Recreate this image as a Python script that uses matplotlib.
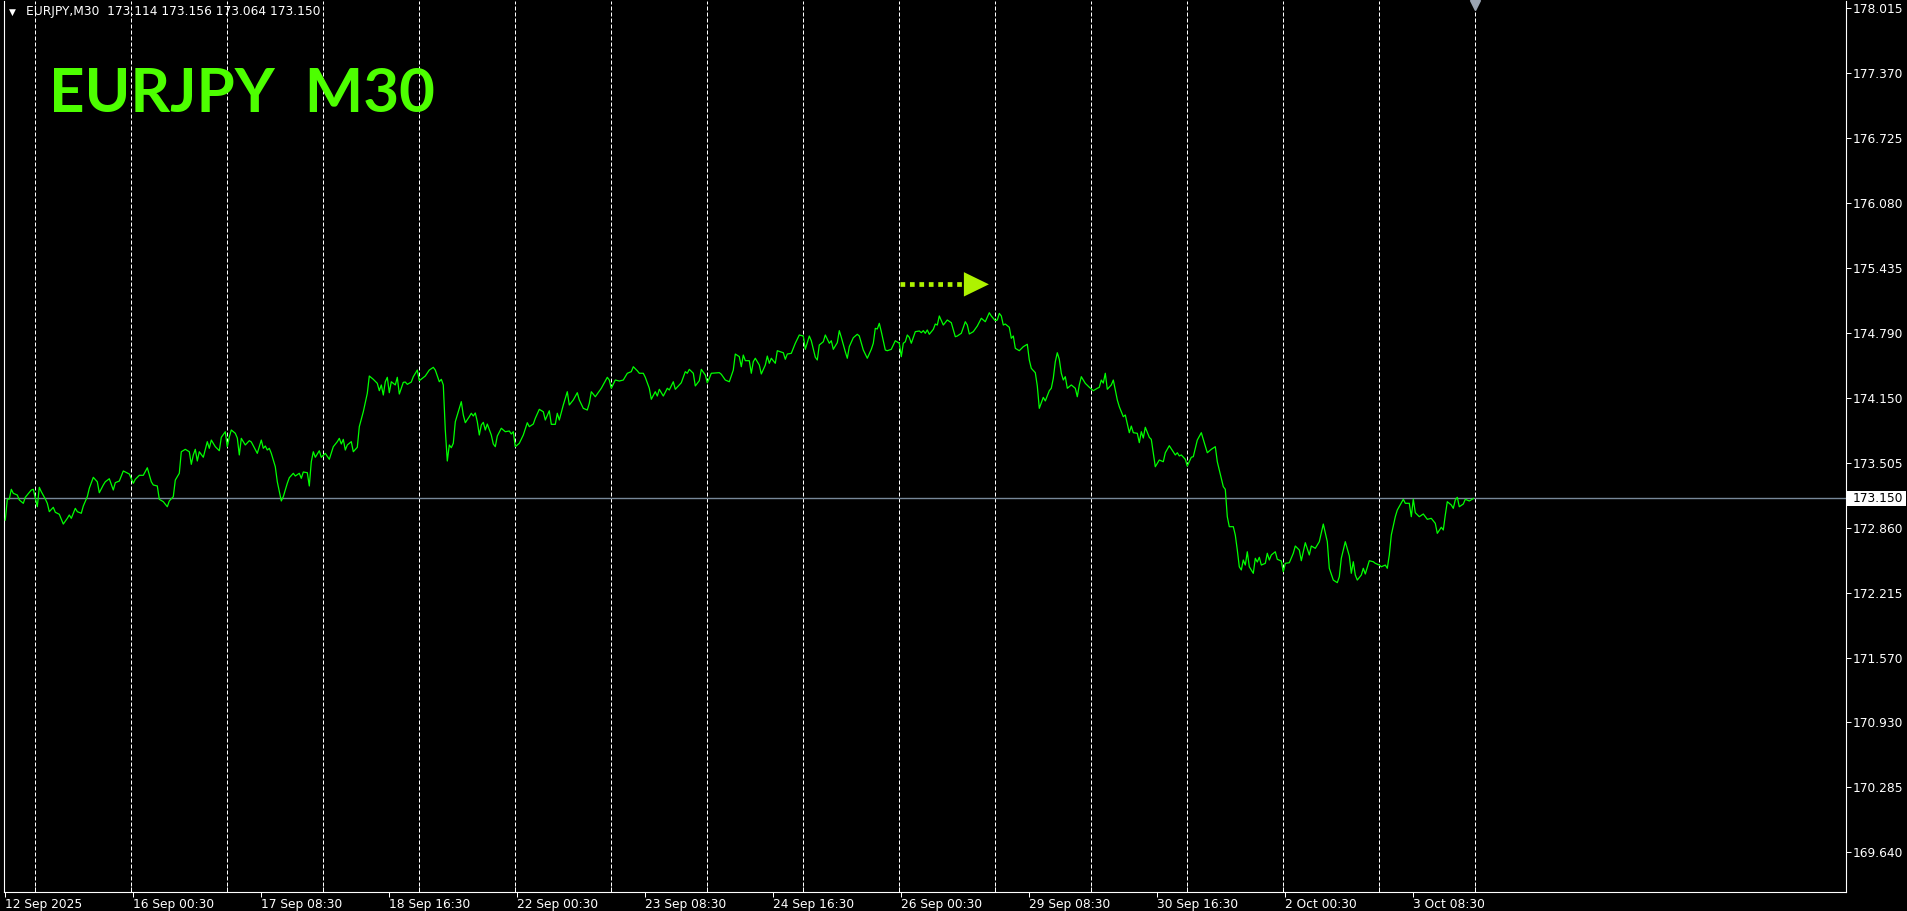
import matplotlib
matplotlib.use('Agg')
import matplotlib.pyplot as plt
from matplotlib.patches import Polygon, Rectangle
from matplotlib.transforms import blended_transform_factory

# M30 bar index (0 = 12 Sep 2025 16:30) and close price
bars = [
    0, 1, 2, 3, 4, 6, 7, 9, 10, 13,
    14, 15, 16, 17, 18, 20, 21, 22, 24, 25,
    27, 29, 31, 32, 33, 35, 36, 38, 39, 41,
    42, 44, 46, 47, 49, 50, 52, 54, 55, 57,
    59, 62, 64, 65, 67, 69, 71, 73, 74, 76,
    77, 79, 81, 82, 84, 85, 87, 88, 90, 92,
    93, 94, 95, 96, 97, 99, 101, 102, 103, 105,
    107, 108, 110, 111, 112, 113, 115, 116, 117, 118,
    120, 122, 123, 126, 128, 129, 130, 131, 132, 133,
    135, 136, 138, 139, 141, 142, 144, 145, 147, 148,
    149, 151, 152, 153, 154, 155, 157, 158, 160, 162,
    164, 166, 167, 168, 169, 170, 171, 173, 174, 176,
    177, 179, 181, 182, 184, 186, 187, 188, 189, 190,
    191, 192, 193, 195, 196, 197, 199, 200, 201, 203,
    204, 206, 207, 210, 212, 214, 215, 217, 218, 219,
    220, 221, 222, 223, 224, 225, 227, 228, 229, 230,
    232, 233, 234, 235, 236, 237, 238, 239, 240, 241,
    243, 244, 245, 246, 248, 250, 252, 253, 254, 255,
    257, 259, 261, 262, 264, 265, 267, 269, 270, 272,
    273, 275, 276, 277, 279, 280, 281, 282, 284, 286,
    287, 289, 291, 292, 293, 295, 298, 301, 302, 303,
    305, 307, 309, 311, 313, 314, 316, 317, 319, 320,
    322, 323, 325, 326, 327, 329, 331, 332, 334, 335,
    338, 340, 341, 342, 344, 345, 347, 348, 350, 351,
    352, 353, 357, 358, 360, 362, 364, 365, 367, 368,
    369, 370, 372, 373, 374, 375, 377, 378, 380, 381,
    382, 383, 385, 386, 389, 390, 391, 393, 395, 397,
    399, 400, 402, 403, 405, 406, 407, 409, 410, 412,
    413, 414, 416, 417, 418, 420, 421, 422, 424, 426,
    427, 429, 431, 433, 434, 435, 436, 437, 438, 440,
    441, 443, 444, 445, 447, 448, 449, 450, 451, 452,
    453, 455, 457, 458, 459, 460, 461, 462, 464, 465,
    466, 467, 469, 471, 473, 475, 476, 478, 480, 481,
    482, 484, 486, 488, 490, 492, 493, 495, 496, 497,
    498, 499, 500, 502, 503, 504, 505, 507, 509, 511,
    512, 513, 515, 516, 517, 519, 520, 522, 523, 524,
    525, 526, 527, 528, 529, 530, 531, 533, 535, 536,
    537, 538, 540, 542, 544, 546, 547, 548, 549, 550,
    551, 553, 554, 556, 557, 559, 560, 562, 563, 564,
    566, 567, 568, 569, 570, 572, 573, 574, 575, 577,
    579, 580, 582, 585, 586, 587, 588, 590, 591, 593,
    594, 596, 598, 599, 601, 603, 605, 606, 607, 609,
    610, 611, 612, 614, 615, 616, 617, 618, 619, 620,
    621, 622, 623, 624, 625, 626, 627, 628, 630, 631,
    632, 633, 635, 636, 638, 639, 640, 642, 644, 645,
    647, 648, 650, 652, 653, 655, 657, 659, 661, 662,
    664, 666, 667, 668, 670, 672, 673, 674, 675, 676,
    678, 679, 680, 682, 684, 685, 687, 688, 690, 691,
    692, 693, 695, 696, 699, 700, 702, 703, 704, 705,
    707, 709, 711, 713, 715, 716, 718, 719, 720, 721,
    723, 724, 725, 726, 727, 729, 730, 732, 734,
]
closes = [
    172.936, 173.142, 173.145, 173.241, 173.201, 173.184, 173.135, 173.102, 173.162, 173.234,
    173.241, 173.152, 173.068, 173.261, 173.217, 173.145, 173.102, 173.019, 173.062, 173.013,
    172.993, 172.896, 172.953, 172.986, 172.953, 173.052, 173.019, 173.003, 173.075, 173.168,
    173.251, 173.360, 173.316, 173.207, 173.284, 173.316, 173.346, 173.234, 173.307, 173.323,
    173.423, 173.393, 173.301, 173.340, 173.380, 173.380, 173.455, 173.316, 173.284, 173.274,
    173.142, 173.118, 173.068, 173.125, 173.168, 173.333, 173.400, 173.614, 173.638, 173.614,
    173.489, 173.582, 173.638, 173.522, 173.614, 173.559, 173.714, 173.648, 173.730, 173.664,
    173.624, 173.757, 173.813, 173.664, 173.760, 173.830, 173.797, 173.750, 173.582, 173.747,
    173.681, 173.724, 173.711, 173.598, 173.730, 173.648, 173.671, 173.631, 173.648, 173.598,
    173.465, 173.316, 173.125, 173.168, 173.301, 173.356, 173.400, 173.373, 173.400, 173.350,
    173.413, 173.406, 173.274, 173.515, 173.614, 173.559, 173.624, 173.559, 173.598, 173.539,
    173.664, 173.714, 173.747, 173.691, 173.737, 173.631, 173.681, 173.714, 173.614, 173.658,
    173.863, 174.011, 174.194, 174.366, 174.333, 174.293, 174.220, 174.277, 174.177, 174.309,
    174.353, 174.200, 174.309, 174.277, 174.353, 174.187, 174.303, 174.306, 174.283, 174.306,
    174.359, 174.425, 174.319, 174.366, 174.425, 174.452, 174.425, 174.309, 174.333, 174.277,
    173.830, 173.522, 173.681, 173.654, 173.698, 173.912, 174.045, 174.111, 173.979, 173.902,
    173.962, 173.996, 173.969, 173.999, 173.912, 173.780, 173.879, 173.906, 173.830, 173.889,
    173.780, 173.691, 173.664, 173.770, 173.847, 173.813, 173.820, 173.790, 173.813, 173.664,
    173.698, 173.780, 173.902, 173.863, 173.889, 173.946, 174.035, 174.011, 173.929, 174.021,
    173.886, 173.886, 173.996, 173.929, 174.078, 174.144, 174.210, 174.078, 174.128, 174.200,
    174.128, 174.045, 174.028, 174.095, 174.210, 174.160, 174.244, 174.353, 174.326, 174.244,
    174.326, 174.316, 174.326, 174.393, 174.409, 174.458, 174.418, 174.393, 174.393, 174.353,
    174.244, 174.135, 174.210, 174.167, 174.234, 174.167, 174.244, 174.227, 174.309, 174.234,
    174.299, 174.409, 174.393, 174.432, 174.393, 174.267, 174.319, 174.432, 174.376, 174.299,
    174.343, 174.393, 174.399, 174.383, 174.326, 174.309, 174.425, 174.584, 174.558, 174.458,
    174.574, 174.518, 174.518, 174.393, 174.508, 174.542, 174.475, 174.386, 174.475, 174.564,
    174.492, 174.542, 174.492, 174.617, 174.597, 174.532, 174.584, 174.591, 174.691, 174.773,
    174.763, 174.631, 174.763, 174.716, 174.552, 174.525, 174.674, 174.706, 174.773, 174.691,
    174.716, 174.631, 174.697, 174.816, 174.750, 174.607, 174.542, 174.657, 174.746, 174.780,
    174.763, 174.624, 174.542, 174.631, 174.691, 174.839, 174.833, 174.889, 174.806, 174.624,
    174.617, 174.631, 174.674, 174.716, 174.691, 174.558, 174.691, 174.706, 174.773, 174.750,
    174.691, 174.806, 174.813, 174.796, 174.816, 174.790, 174.823, 174.780, 174.829, 174.882,
    174.872, 174.962, 174.872, 174.922, 174.895, 174.756, 174.763, 174.790, 174.905, 174.872,
    174.783, 174.806, 174.862, 174.939, 174.905, 174.994, 174.962, 174.915, 174.922, 174.988,
    174.962, 174.872, 174.882, 174.849, 174.740, 174.763, 174.641, 174.617, 174.657, 174.681,
    174.525, 174.442, 174.399, 174.267, 174.045, 174.154, 174.118, 174.220, 174.244, 174.343,
    174.508, 174.597, 174.532, 174.393, 174.326, 174.359, 174.244, 174.277, 174.244, 174.160,
    174.277, 174.359, 174.293, 174.254, 174.220, 174.244, 174.254, 174.326, 174.296, 174.393,
    174.234, 174.277, 174.326, 174.128, 174.061, 173.962, 173.979, 173.803, 173.869, 173.803,
    173.797, 173.704, 173.813, 173.750, 173.857, 173.757, 173.737, 173.604, 173.465, 173.532,
    173.515, 173.604, 173.674, 173.582, 173.604, 173.572, 173.582, 173.539, 173.472, 173.559,
    173.565, 173.730, 173.803, 173.737, 173.604, 173.638, 173.664, 173.515, 173.433, 173.267,
    173.241, 172.969, 172.870, 172.870, 172.787, 172.638, 172.472, 172.440, 172.539, 172.489,
    172.621, 172.472, 172.440, 172.407, 172.556, 172.519, 172.566, 172.489, 172.506, 172.606,
    172.539, 172.589, 172.621, 172.546, 172.529, 172.423, 172.506, 172.512, 172.606, 172.678,
    172.638, 172.532, 172.711, 172.589, 172.678, 172.655, 172.721, 172.896, 172.721, 172.457,
    172.340, 172.314, 172.373, 172.556, 172.721, 172.579, 172.407, 172.522, 172.390, 172.340,
    172.390, 172.457, 172.400, 172.532, 172.522, 172.506, 172.489, 172.472, 172.489, 172.457,
    172.589, 172.787, 172.969, 173.035, 173.142, 173.102, 173.102, 172.969, 173.142, 173.009,
    172.969, 172.996, 172.943, 172.953, 172.903, 172.804, 172.864, 172.837, 172.986, 173.118,
    173.085, 173.052, 173.135, 173.162, 173.068, 173.095, 173.142, 173.125, 173.150,
]
assert len(bars) == len(closes)

# time axis labels (bar index -> text) and day separators
label_bars = [0, 64, 128, 192, 256, 320, 384, 448, 512, 576, 640, 704]
label_text = ['12 Sep 2025', '16 Sep 00:30', '17 Sep 08:30', '18 Sep 16:30',
              '22 Sep 00:30', '23 Sep 08:30', '24 Sep 16:30', '26 Sep 00:30',
              '29 Sep 08:30', '30 Sep 16:30', '2 Oct 00:30', '3 Oct 08:30']
day_bars = [15 + 48 * k for k in range(16)]

# price scale
price_ticks = [178.015, 177.370, 176.725, 176.080, 175.435, 174.790, 174.150,
               173.505, 172.860, 172.215, 171.570, 170.930, 170.285, 169.640]
bid = 173.150
ohlc = (173.114, 173.156, 173.064, 173.150)
symbol, period = 'EURJPY', 'M30'

# dotted arrow object (bar, price)
arrow_start, arrow_head, arrow_tip = 447.3, 479.3, 491.8
arrow_price, arrow_half = 175.276, 0.121

W, H = 1908, 911
fig = plt.figure(figsize=(W / 100, H / 100), dpi=100, facecolor='black')
ax = fig.add_axes([4 / W, 19 / H, 1842 / W, 891 / H], facecolor='black')
ax.set_xlim(-0.65, 920.35)
ax.set_ylim(169.243, 178.089)

# day separators
for b in day_bars:
    ax.axvline(b, color='white', lw=0.72, ls=(0, (4, 2)), zorder=1)

# bid line
ax.axhline(bid, color='#778899', lw=1.0, zorder=2)

# price line
ax.plot(bars, closes, color='#00ff00', lw=0.9, zorder=3)

# arrow
ax.plot([arrow_start, arrow_head], [arrow_price, arrow_price], color='#aef200',
        lw=3.4, ls=(0, (1, 1)), solid_capstyle='butt', dash_capstyle='butt', zorder=4)
ax.add_patch(Polygon([[arrow_head, arrow_price - arrow_half],
                      [arrow_head, arrow_price + arrow_half],
                      [arrow_tip, arrow_price]], closed=True,
                     facecolor='#aef200', edgecolor='none', zorder=4))

# shift marker at the top
top_tr = blended_transform_factory(ax.transData, ax.transAxes)
ax.plot([735], [0.9955], marker='v', markersize=7, color='#9aa4b2',
        transform=top_tr, clip_on=False, zorder=5)

# spines / ticks
for side in ['left', 'right', 'bottom']:
    ax.spines[side].set_color('white')
    ax.spines[side].set_linewidth(0.8)
ax.spines['top'].set_visible(False)

ax.yaxis.tick_right()
ax.set_yticks(price_ticks)
ax.set_yticklabels([f'{p:.3f}' for p in price_ticks])
ax.tick_params(axis='y', which='both', left=False, right=True, direction='out',
               length=3.6, width=0.72, color='white', labelcolor='white',
               labelsize=8.8, pad=1.5)

ax.set_xticks(label_bars)
ax.set_xticklabels(label_text)
for lbl in ax.get_xticklabels():
    lbl.set_ha('left')
ax.set_xticks(day_bars, minor=True)
ax.tick_params(axis='x', which='major', direction='out', length=3.6, width=0.72,
               color='white', labelcolor='white', labelsize=8.8, pad=0.5)
ax.tick_params(axis='x', which='minor', direction='in', length=3.6, width=0.72,
               color='white')

# bid price tag on the scale
tag_tr = blended_transform_factory(fig.transFigure, ax.transData)
fig.add_artist(Rectangle((1847 / W, bid - 0.07), 59 / W, 0.14, transform=tag_tr,
                         facecolor='white', edgecolor='none', zorder=6))
fig.text(1853 / W, bid, f'{bid:.3f}', transform=tag_tr, color='black',
         fontsize=8.8, va='center', ha='left', zorder=7)

# header line
fig.text(9 / W, 1 - 12 / H, '\u25bc', color='white', fontsize=6.5, va='center', ha='left')
fig.text(26 / W, 1 - 12 / H,
         f'{symbol},{period}  ' + ' '.join(f'{v:.3f}' for v in ohlc),
         color='white', fontsize=8.8, va='center', ha='left')

# big symbol caption
fig.text(49 / W, 1 - 112 / H, f'{symbol}  {period}', color='#4dff00',
         fontsize=44.5, fontweight='bold', family=['Lato', 'DejaVu Sans'],
         va='baseline', ha='left')

fig.savefig('out.png', dpi=100, facecolor='black')
